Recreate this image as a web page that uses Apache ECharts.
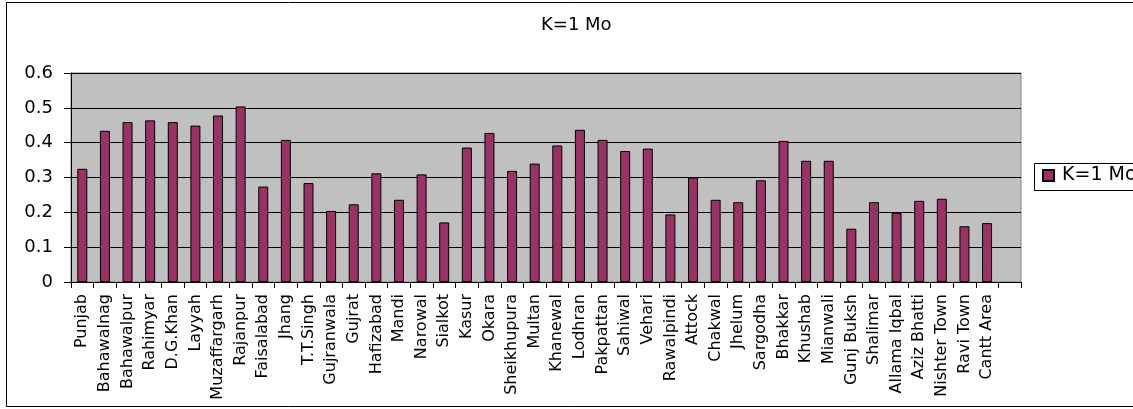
<!DOCTYPE html>
<html>
<head>
<meta charset="utf-8">
<script src="https://cdn.jsdelivr.net/npm/echarts@6/dist/echarts.min.js"></script>
<style>
html,body{margin:0;padding:0;background:#fff;}
#chart{width:1133px;height:409px;}
</style>
</head>
<body>
<div id="chart"></div>
<script>
var categories = ['Punjab','Bahawalnag','Bahawalpur','Rahimyar','D.G.Khan','Layyah','Muzaffargarh','Rajanpur','Faisalabad','Jhang','T.T.Singh','Gujranwala','Gujrat','Hafizabad','Mandi','Narowal','Sialkot','Kasur','Okara','Sheikhupura','Multan','Khanewal','Lodhran','Pakpattan','Sahiwal','Vehari','Rawalpindi','Attock','Chakwal','Jhelum','Sargodha','Bhakkar','Khushab','Mianwali','Gunj Buksh','Shalimar','Allama Iqbal','Aziz Bhatti','Nishter Town','Ravi Town','Cantt Area',''];
var seriesName = 'K=1 Mo';
var values = [0.325,0.434,0.459,0.464,0.459,0.449,0.478,0.504,0.274,0.408,0.284,0.204,0.223,0.312,0.236,0.309,0.171,0.386,0.428,0.319,0.340,0.392,0.437,0.408,0.376,0.383,0.194,0.300,0.236,0.229,0.292,0.405,0.348,0.348,0.153,0.229,0.198,0.233,0.239,0.160,0.169,null];
var yMin = 0, yMax = 0.6, yStep = 0.1;
var titleText = 'K=1 Mo';

var chart = echarts.init(document.getElementById('chart'), null, {renderer:'canvas'});
var font = 'DejaVu Sans, sans-serif';
chart.setOption({
  animation: false,
  backgroundColor: '#ffffff',
  title: {
    text: titleText,
    left: 541, top: 16,
    padding: 0,
    textStyle: {fontFamily: font, fontSize: 18, fontWeight: 'normal', color: '#000'}
  },
  graphic: [{
    type: 'rect', silent: true, z: -10,
    shape: {x: 6.5, y: 2.5, width: 1140, height: 404},
    style: {fill: 'none', stroke: '#000', lineWidth: 1}
  }, {
    type: 'rect', silent: true, z: 10,
    shape: {x: 1034.5, y: 163.5, width: 120, height: 27},
    style: {fill: 'none', stroke: '#000', lineWidth: 1}
  }],
  legend: {
    show: true,
    left: 1035, top: 164,
    orient: 'vertical',
    padding: [2, 0, 2, 7],
    itemWidth: 11, itemHeight: 11,
    icon: 'rect',
    textStyle: {fontFamily: font, fontSize: 19, color: '#000', padding: [0,0,0,3]},
    data: [seriesName]
  },
  grid: {
    left: 71, right: 112, top: 73, bottom: 127,
    outerBoundsMode: 'none',
    containLabel: false,
    show: true,
    backgroundColor: '#C0C0C0',
    borderColor: '#808080', borderWidth: 1
  },
  xAxis: {
    type: 'category',
    data: categories,
    boundaryGap: true,
    axisLine: {show: true, lineStyle: {color: '#000', width: 1}},
    axisTick: {show: true, length: 6, interval: 0, lineStyle: {color: '#000'}},
    axisLabel: {interval: 0, rotate: 90, margin: 12, fontFamily: font, fontSize: 16, color: '#000'},
    splitLine: {show: false}
  },
  yAxis: {
    type: 'value',
    min: yMin, max: yMax, interval: yStep,
    axisLine: {show: true, lineStyle: {color: '#000', width: 1}},
    axisTick: {show: true, length: 7, lineStyle: {color: '#000'}},
    axisLabel: {margin: 18, fontFamily: font, fontSize: 18, color: '#000'},
    splitLine: {show: true, lineStyle: {color: '#000', width: 1}}
  },
  series: [{
    name: seriesName,
    type: 'bar',
    data: values,
    barWidth: 10,
    itemStyle: {color: '#993366', borderColor: '#000', borderWidth: 1}
  }]
});
</script>
</body>
</html>
